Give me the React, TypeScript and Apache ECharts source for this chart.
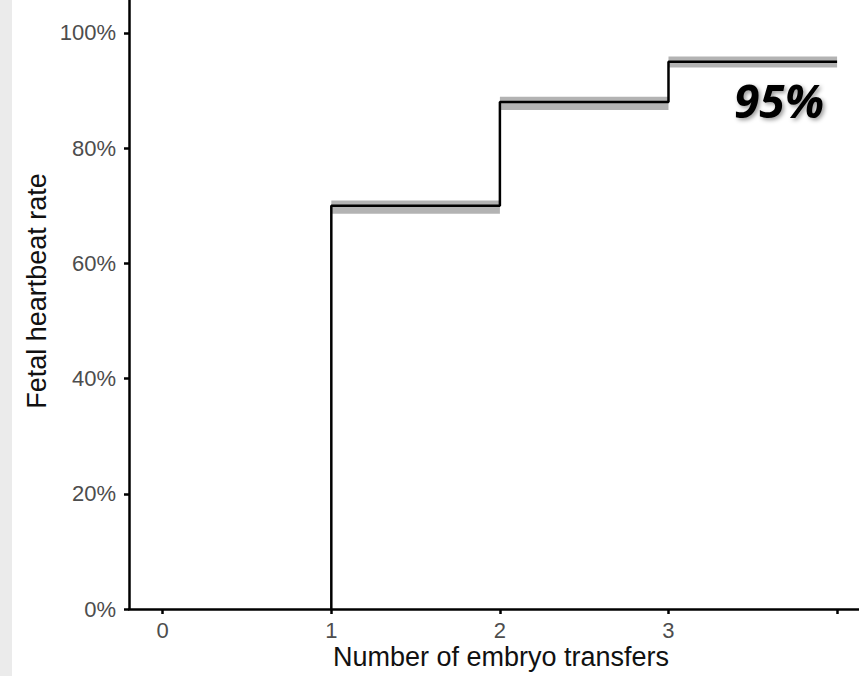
import React, { useEffect, useRef } from "react";
import * as echarts from "echarts";

// Step curve: embryo transfer number -> cumulative fetal heartbeat rate (%)
const stepX = [1, 1, 2, 3, 4];
const stepY = [0, 70, 88, 95, 95];
// Confidence band per horizontal segment
const bandStart = [1, 2, 3];
const bandEnd = [2, 3, 4];
const bandLower = [68.6, 86.6, 94.0];
const bandUpper = [70.9, 88.9, 95.9];
const xTickValues = [0, 1, 2, 3, 4];
const xLabelValues = [0, 1, 2, 3];
const yTickValues = [0, 20, 40, 60, 80, 100];
const annotation = "95%";
const xTitle = "Number of embryo transfers";
const yTitle = "Fetal heartbeat rate";

export default function App() {
  const ref = useRef<HTMLDivElement>(null);
  useEffect(() => {
    document.body.style.margin = "0";
    const chart = echarts.init(ref.current!, null, { renderer: "svg" });
    const font = "Liberation Sans, Arial, sans-serif";
    chart.setOption({
      animation: false,
      backgroundColor: "#ffffff",
      grid: { left: 129, right: 0, top: 0, bottom: 67, containLabel: false },
      xAxis: {
        type: "value",
        min: -0.2,
        max: 4.13,
        axisLine: { show: true, onZero: false, lineStyle: { color: "#000", width: 2.5 } },
        axisTick: {
          show: true,
          length: 5,
          lineStyle: { color: "#000", width: 2.5 },
          customValues: xTickValues,
        },
        axisLabel: {
          color: "#4d4d4d",
          fontSize: 22,
          fontFamily: font,
          margin: 10,
          customValues: xLabelValues,
        },
        splitLine: { show: false },
      },
      yAxis: {
        type: "value",
        min: 0,
        max: 105.7,
        axisLine: { show: true, onZero: false, lineStyle: { color: "#000", width: 2.5 } },
        axisTick: {
          show: true,
          length: 5,
          lineStyle: { color: "#000", width: 2.5 },
          customValues: yTickValues,
        },
        axisLabel: {
          color: "#4d4d4d",
          fontSize: 22,
          fontFamily: font,
          margin: 13,
          formatter: "{value}%",
          customValues: yTickValues,
        },
        splitLine: { show: false },
      },
      series: [
        {
          type: "custom",
          z: 1,
          data: bandStart.map((s, i) => [s, bandEnd[i], bandLower[i], bandUpper[i]]),
          renderItem: (params: any, api: any) => {
            const p0 = api.coord([api.value(0), api.value(3)]);
            const p1 = api.coord([api.value(1), api.value(2)]);
            return {
              type: "rect",
              shape: { x: p0[0], y: p0[1], width: p1[0] - p0[0], height: p1[1] - p0[1] },
              style: { fill: "#b3b3b3" },
            };
          },
        },
        {
          type: "line",
          z: 2,
          step: "end",
          symbol: "none",
          data: stepX.map((x, i) => [x, stepY[i]]),
          lineStyle: { color: "#000", width: 2.5 },
        },
      ],
      graphic: [
        {
          type: "rect",
          shape: { x: 0, y: 0, width: 12, height: 676 },
          style: { fill: "#ebebeb" },
          z: 0,
        },
        {
          type: "text",
          x: 501,
          y: 657,
          style: {
            text: xTitle,
            fontSize: 27,
            fontFamily: font,
            fill: "#111",
            align: "center",
            verticalAlign: "middle",
          },
        },
        {
          type: "text",
          x: 37,
          y: 291,
          rotation: Math.PI / 2,
          style: {
            text: yTitle,
            fontSize: 27,
            fontFamily: font,
            fill: "#111",
            align: "center",
            verticalAlign: "middle",
          },
        },
        {
          type: "text",
          x: 779,
          y: 100,
          style: {
            text: annotation,
            fontSize: 46,
            fontFamily: "Open Sans, sans-serif",
            fontWeight: "bold",
            fontStyle: "italic",
            fill: "#000",
            align: "center",
            verticalAlign: "middle",
            textShadowColor: "rgba(0,0,0,0.4)",
            textShadowBlur: 4,
            textShadowOffsetX: 2,
            textShadowOffsetY: 2,
          },
        },
      ],
    });
    return () => chart.dispose();
  }, []);
  return <div ref={ref} style={{ width: 859, height: 676 }} />;
}
